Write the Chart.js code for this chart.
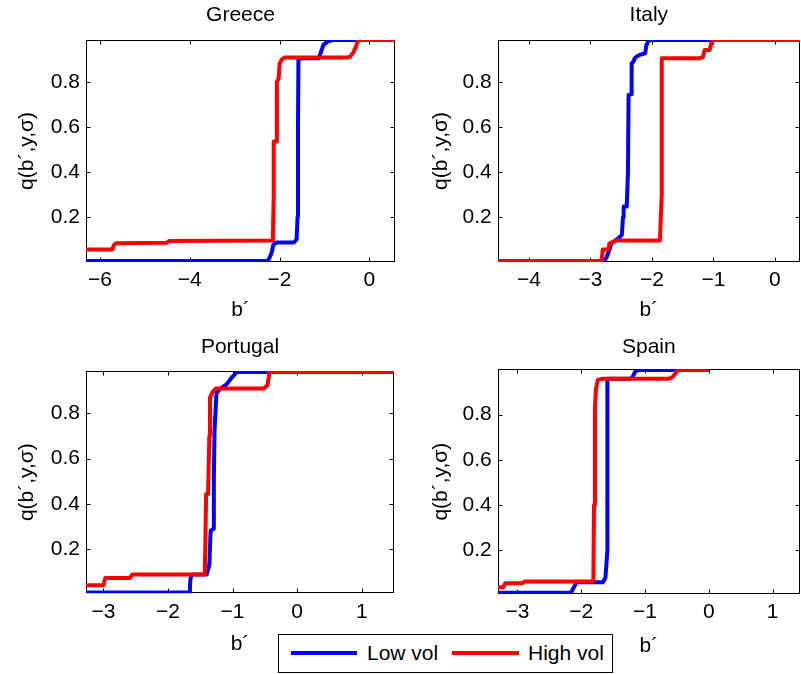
<!DOCTYPE html>
<html>
<head>
<meta charset="utf-8">
<script src="https://cdn.jsdelivr.net/npm/chart.js@4.4.1/dist/chart.umd.min.js"></script>
<style>
html,body{margin:0;padding:0;background:#fff;}
body{width:801px;height:674px;overflow:hidden;position:relative;font-family:"Liberation Sans",Arial,Helvetica,sans-serif;}
canvas{position:absolute;}
#legend{position:absolute;left:278px;top:634px;width:333px;height:37px;border:1px solid #000;background:#fff;}
#legend .ln{position:absolute;height:4px;top:16px;}
#legend .tx{position:absolute;top:5px;font-size:21px;line-height:25px;color:#000;white-space:nowrap;}
</style>
</head>
<body>
<canvas id="cGreece" width="400" height="330" style="left:0px;top:0px"></canvas>
<canvas id="cItaly" width="401" height="330" style="left:400px;top:0px"></canvas>
<canvas id="cPortugal" width="400" height="344" style="left:0px;top:330px"></canvas>
<canvas id="cSpain" width="401" height="344" style="left:400px;top:330px"></canvas>
<div id="legend">
  <div class="ln" style="left:12px;width:66px;background:#0000ff"></div>
  <div class="tx" id="lgLow" style="left:88px"></div>
  <div class="ln" style="left:173px;width:67px;background:#ff0000"></div>
  <div class="tx" id="lgHigh" style="left:249px"></div>
</div>
<script>
// ---- data ----
const seriesNames = ['Low vol', 'High vol'];
const countries = ['Greece', 'Italy', 'Portugal', 'Spain'];
const xLabel = 'b\u00b4';
const yLabel = 'q(b\u00b4,y,\u03c3)';
const yTicks = [0.2, 0.4, 0.6, 0.8];

const greeceTicksX = [-6, -4, -2, 0];
const italyTicksX = [-4, -3, -2, -1, 0];
const portugalTicksX = [-3, -2, -1, 0, 1];
const spainTicksX = [-3, -2, -1, 0, 1];

const greeceLow = [[-6.31,0.004],[-2.26,0.004],[-2.18,0.039],[-2.14,0.076],[-2.07,0.087],[-1.68,0.087],[-1.62,0.10],[-1.60,0.20],[-1.59,0.60],[-1.58,0.90],[-1.50,0.905],[-1.13,0.905],[-1.10,0.92],[-1.05,0.95],[-1.02,0.966],[-0.92,0.98],[-0.82,0.986],[0.57,0.986]];
const greeceHigh = [[-6.31,0.056],[-5.72,0.056],[-5.69,0.075],[-5.64,0.083],[-4.52,0.085],[-4.46,0.093],[-2.15,0.095],[-2.13,0.30],[-2.13,0.535],[-2.07,0.535],[-2.06,0.80],[-2.02,0.815],[-2.00,0.88],[-1.95,0.90],[-1.88,0.908],[-0.50,0.908],[-0.43,0.912],[-0.36,0.93],[-0.30,0.955],[-0.27,0.975],[-0.24,0.986],[0.57,0.986]];

const italyLow = [[-4.51,0.003],[-2.78,0.003],[-2.74,0.02],[-2.71,0.04],[-2.66,0.083],[-2.60,0.095],[-2.55,0.105],[-2.49,0.12],[-2.47,0.20],[-2.46,0.246],[-2.41,0.246],[-2.39,0.40],[-2.38,0.742],[-2.34,0.745],[-2.33,0.883],[-2.30,0.89],[-2.28,0.905],[-2.25,0.912],[-2.20,0.92],[-2.11,0.927],[-2.09,0.964],[-2.06,0.979],[-2.03,0.986],[0.41,0.986]];
const italyHigh = [[-4.51,0.003],[-2.82,0.003],[-2.80,0.056],[-2.71,0.056],[-2.69,0.083],[-2.62,0.09],[-2.58,0.095],[-1.87,0.095],[-1.84,0.30],[-1.84,0.905],[-1.22,0.905],[-1.17,0.91],[-1.14,0.942],[-1.06,0.942],[-1.03,0.975],[-1.00,0.986],[0.41,0.986]];

const portugalLow = [[-3.27,0.004],[-3.22,0.008],[-1.67,0.008],[-1.66,0.04],[-1.65,0.072],[-1.62,0.087],[-1.40,0.087],[-1.36,0.13],[-1.34,0.28],[-1.30,0.29],[-1.29,0.50],[-1.28,0.72],[-1.25,0.89],[-1.19,0.91],[-1.09,0.93],[-1.01,0.96],[-0.93,0.984],[1.50,0.984]];
const portugalHigh = [[-3.27,0.04],[-3.00,0.04],[-2.97,0.072],[-2.59,0.072],[-2.55,0.087],[-1.43,0.087],[-1.42,0.25],[-1.41,0.443],[-1.38,0.443],[-1.36,0.70],[-1.35,0.87],[-1.31,0.895],[-1.26,0.91],[-0.52,0.91],[-0.46,0.925],[-0.44,0.96],[-0.43,0.984],[1.50,0.984]];

const spainLow = [[-3.31,0.012],[-2.16,0.012],[-2.12,0.035],[-2.07,0.059],[-1.66,0.059],[-1.62,0.08],[-1.59,0.20],[-1.59,0.958],[-1.23,0.958],[-1.19,0.968],[-1.16,0.987],[-1.11,0.997],[0.0,0.997]];
const spainHigh = [[-3.31,0.037],[-3.22,0.037],[-3.19,0.055],[-2.92,0.055],[-2.89,0.062],[-1.81,0.062],[-1.80,0.40],[-1.785,0.83],[-1.77,0.91],[-1.74,0.953],[-1.68,0.958],[-0.63,0.958],[-0.57,0.965],[-0.53,0.978],[-0.50,0.992],[-0.45,0.997],[0.0,0.997]];

// ---- layout / styling ----
const FONT = {family: '"Liberation Sans", Arial, Helvetica, sans-serif', size: 21, weight: 'normal'};
const LH = 21 * 1.2;

const boxPlugin = {
  id: 'matlabBox',
  beforeDatasetsDraw(chart) {
    const {ctx, chartArea: a, scales: {x, y}} = chart;
    ctx.save();
    ctx.strokeStyle = '#000';
    ctx.lineWidth = 1;
    const L = Math.round(a.left) + 0.5, R = Math.round(a.right) - 0.5;
    const T = Math.round(a.top) + 0.5, B = Math.round(a.bottom) - 0.5;
    ctx.strokeRect(L, T, R - L, B - T);
    ctx.beginPath();
    x.ticks.forEach(t => {
      const px = Math.round(x.getPixelForValue(t.value)) + 0.5;
      ctx.moveTo(px, B); ctx.lineTo(px, B - 4);
      ctx.moveTo(px, T); ctx.lineTo(px, T + 4);
    });
    y.ticks.forEach(t => {
      const py = Math.round(y.getPixelForValue(t.value)) + 0.5;
      ctx.moveTo(L, py); ctx.lineTo(L + 4, py);
      ctx.moveTo(R, py); ctx.lineTo(R - 4, py);
    });
    ctx.stroke();
    ctx.restore();
  }
};

function fmtX(v) { return String(v).replace('-', '\u2212'); }

function makePanel(p) {
  const el = document.getElementById(p.id);
  const W = el.width, H = el.height;
  const xAxisH = p.xTitleY - p.area.bottom + LH / 2;
  const ds = (arr, color, label, order) => ({
    label, order,
    data: arr.map(([x, y]) => ({x, y})),
    showLine: true, borderColor: color, backgroundColor: color,
    borderWidth: 4, pointRadius: 0, pointHoverRadius: 0, tension: 0, fill: false,
    borderJoinStyle: 'round', borderCapStyle: 'butt'
  });
  return new Chart(el, {
    type: 'scatter',
    data: {datasets: [ds(p.low, '#0000ff', seriesNames[0], 2), ds(p.high, '#ff0000', seriesNames[1], 1)]},
    options: {
      responsive: false, animation: false, devicePixelRatio: 1,
      layout: {padding: {left: 0, right: W - p.area.right, top: 0, bottom: H - p.area.bottom - xAxisH}},
      plugins: {
        legend: {display: false}, tooltip: {enabled: false},
        title: {display: true, text: p.title, fullSize: false, color: '#000', font: FONT,
                padding: {top: p.titleTop, bottom: p.area.top - p.titleTop - LH}}
      },
      scales: {
        x: {
          type: 'linear', min: p.xr[0], max: p.xr[1],
          grid: {display: false, drawTicks: false}, border: {display: false},
          afterBuildTicks: s => { s.ticks = p.xt.map(v => ({value: v})); },
          afterFit: s => { s.height = xAxisH; },
          ticks: {color: '#000', font: FONT, padding: 6, maxRotation: 0, autoSkip: false, callback: v => fmtX(v)},
          title: {display: true, text: xLabel, color: '#000', font: FONT, padding: {top: 0, bottom: 0}}
        },
        y: {
          type: 'linear', min: p.yr[0], max: p.yr[1],
          grid: {display: false, drawTicks: false}, border: {display: false},
          afterBuildTicks: s => { s.ticks = yTicks.map(v => ({value: v})); },
          afterFit: s => { s.width = p.area.left; },
          ticks: {color: '#000', font: FONT, padding: 6, autoSkip: false, callback: v => Number(v).toFixed(1)},
          title: {display: true, text: yLabel, color: '#000', font: FONT, padding: {top: p.yTitleX - LH / 2, bottom: 0}}
        }
      }
    },
    plugins: [boxPlugin]
  });
}

makePanel({id: 'cGreece', title: countries[0], low: greeceLow, high: greeceHigh, xt: greeceTicksX,
  xr: [-6.31, 0.57], yr: [0, 0.986], area: {left: 86, right: 395, top: 40, bottom: 262},
  titleTop: 3.1, xTitleY: 310.5, yTitleX: 27.5});
makePanel({id: 'cItaly', title: countries[1], low: italyLow, high: italyHigh, xt: italyTicksX,
  xr: [-4.51, 0.41], yr: [0, 0.986], area: {left: 97.7, right: 400, top: 40, bottom: 262},
  titleTop: 3.1, xTitleY: 310.5, yTitleX: 41});
makePanel({id: 'cPortugal', title: countries[2], low: portugalLow, high: portugalHigh, xt: portugalTicksX,
  xr: [-3.27, 1.50], yr: [0.004, 0.988], area: {left: 86, right: 394, top: 41, bottom: 263.3},
  titleTop: 4.9, xTitleY: 314, yTitleX: 27.5});
makePanel({id: 'cSpain', title: countries[3], low: spainLow, high: spainHigh, xt: spainTicksX,
  xr: [-3.31, 1.43], yr: [0.007, 1.0], area: {left: 97.7, right: 400, top: 39.3, bottom: 264},
  titleTop: 4.4, xTitleY: 316, yTitleX: 41});

document.getElementById('lgLow').textContent = seriesNames[0];
document.getElementById('lgHigh').textContent = seriesNames[1];
</script>
</body>
</html>
